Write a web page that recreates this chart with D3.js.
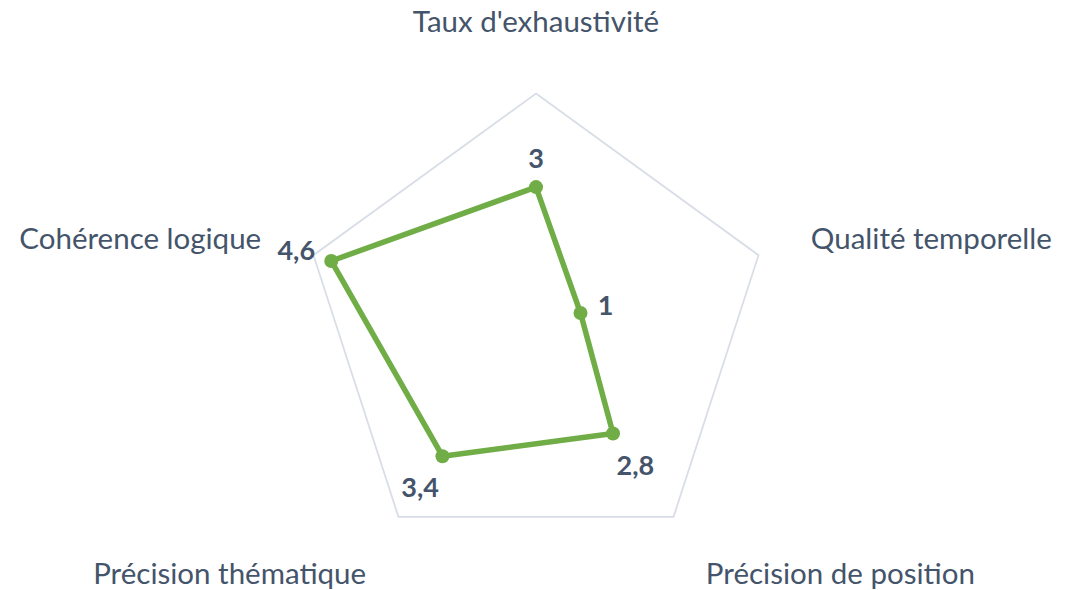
<!DOCTYPE html>
<html>
<head>
<meta charset="utf-8">
<script src="https://cdn.jsdelivr.net/npm/d3@7"></script>
<style>
	body { margin: 0; background: #fff; }
	svg { display: block; }
</style>
</head>
<body>
<svg id="chart"></svg>
<script>
/* jshint esversion: 6 */

(function(){
	// Data
	const categories = ["Taux d'exhaustivité", "Qualité temporelle", "Précision de position", "Précision thématique", "Cohérence logique"];
	const values = [3, 1, 2.8, 3.4, 4.6];
	const valueLabels = ["3", "1", "2,8", "3,4", "4,6"];
	const maxValue = 5;

	// Layout
	const width = 1071;
	const height = 590;
	const cx = 536;
	const cy = 327.5;
	const radius = 234;

	const textColor = "#44546A";
	const gridColor = "#D9DEE6";
	const lineColor = "#70AD47";

	const svg = d3.select("#chart")
			.attr("width", width)
			.attr("height", height);

	const g = svg.append("g")
			.attr("transform", `translate(${cx}, ${cy})`);

	// Scales
	const angle = d3.scalePoint()
			.domain(categories)
			.range([0, 2 * Math.PI * (categories.length - 1) / categories.length]);

	const r = d3.scaleLinear()
			.domain([0, maxValue])
			.range([0, radius]);

	const polar = (a, d) => [Math.sin(a) * d, -Math.cos(a) * d];

	// Outer grid
	const outer = d3.line().curve(d3.curveLinearClosed);
	g.append("path")
			.attr("d", outer(categories.map(c => polar(angle(c), r(maxValue)))))
			.style("fill", "none")
			.style("stroke", gridColor)
			.style("stroke-width", 1.8);

	// Category labels
	g.selectAll(".cat")
		.data(categories)
		.enter().append("text")
			.attr("class", "cat")
			.each(function(c) {
				const a = angle(c);
				const p = polar(a, r(maxValue) + 55);
				const s = Math.sin(a), co = Math.cos(a);
				const t = d3.select(this)
						.attr("x", p[0])
						.attr("y", p[1])
						.text(c);
				t.attr("text-anchor", Math.abs(s) < 0.1 ? "middle" : (s > 0 ? "start" : "end"));
				if (co > 0.9) t.attr("dy", "-0.22em");
				else if (co < -0.5) t.attr("dy", "0.78em");
				else t.attr("dy", "0.35em");
			})
			.style("font-family", "Lato, 'Open Sans', sans-serif")
			.style("font-size", "29.5px")
			.style("fill", textColor);

	// Series
	const pts = categories.map((c, i) => polar(angle(c), r(values[i])));

	g.append("path")
			.attr("d", outer(pts))
			.style("fill", "none")
			.style("stroke", lineColor)
			.style("stroke-width", 5.5)
			.style("stroke-linejoin", "round");

	g.selectAll(".dot")
		.data(pts)
		.enter().append("circle")
			.attr("class", "dot")
			.attr("cx", d => d[0])
			.attr("cy", d => d[1])
			.attr("r", 7)
			.style("fill", lineColor);

	// Value labels, pushed outward from each point
	g.selectAll(".val")
		.data(categories)
		.enter().append("text")
			.attr("class", "val")
			.attr("text-anchor", "middle")
			.attr("dominant-baseline", "central")
			.style("font-family", "Lato, 'Open Sans', sans-serif")
			.style("font-size", "27px")
			.style("font-weight", "bold")
			.style("fill", textColor)
			.text((c, i) => valueLabels[i])
			.each(function(c, i) {
				const a = angle(c);
				const w = this.getComputedTextLength();
				const s = Math.sin(a), co = Math.cos(a);
				const d = Math.abs(s) * w / 2 + Math.abs(co) * 16 + 14;
				const p = polar(a, r(values[i]) + d);
				d3.select(this)
						.attr("x", p[0])
						.attr("y", p[1]);
			});
}());
</script>
</body>
</html>
